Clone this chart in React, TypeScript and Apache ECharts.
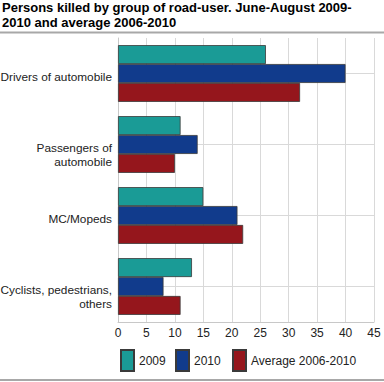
import React, { useEffect, useRef } from "react";
import * as echarts from "echarts";

const categories = [
  "Drivers of automobile",
  "Passengers of\nautomobile",
  "MC/Mopeds",
  "Cyclists, pedestrians,\nothers",
];
const series2009 = [26, 11, 15, 13];
const series2010 = [40, 14, 21, 8];
const seriesAverage = [32, 10, 22, 11];
const seriesNames = ["2009", "2010", "Average 2006-2010"];
const colors = ["#1a9b96", "#113b8c", "#95161c"];
const titleText = "Persons killed by group of road-user. June-August 2009-\n2010 and average 2006-2010";

const FONT = "'Liberation Sans', Arial, sans-serif";

export default function App() {
  const ref = useRef<HTMLDivElement>(null);
  useEffect(() => {
    if (!ref.current) return;
    const chart = echarts.init(ref.current, undefined, { renderer: "svg" });
    const values = [series2009, series2010, seriesAverage];
    const legendLefts = [120, 175, 232];
    chart.setOption({
      animation: false,
      textStyle: { fontFamily: FONT },
      title: {
        text: titleText,
        left: 2,
        top: 0,
        padding: 0,
        textStyle: {
          fontFamily: FONT,
          fontSize: 13,
          fontWeight: "bold",
          color: "#000",
          lineHeight: 15,
        },
      },
      legend: seriesNames.map((n, i) => ({
        data: [n],
        left: legendLefts[i],
        top: 349,
        padding: 0,
        itemWidth: 13,
        itemHeight: 21,
        itemGap: 0,
        icon: "rect",
        selectedMode: false,
        textStyle: { fontFamily: FONT, fontSize: 12, color: "#222" },
      })),
      grid: { left: 118, top: 38, width: 256, height: 284, containLabel: false, outerBoundsMode: "none" },
      xAxis: {
        type: "value",
        min: 0,
        max: 45,
        interval: 5,
        axisLine: { show: true, lineStyle: { color: "#c8c8c8", width: 1 } },
        axisTick: { show: false },
        axisLabel: { fontFamily: FONT, fontSize: 12, color: "#222", margin: 5 },
        splitLine: { show: true, lineStyle: { color: "#d9d9d9", width: 1 } },
      },
      yAxis: {
        type: "category",
        data: categories,
        inverse: true,
        axisLine: { show: true, lineStyle: { color: "#c8c8c8", width: 1 } },
        axisTick: { show: false, alignWithLabel: true },
        axisLabel: {
          fontFamily: FONT,
          fontSize: 11.8,
          color: "#222",
          margin: 6,
          lineHeight: 14,
          align: "right",
          verticalAlign: "top",
          padding: [-4, 0, 0, 0],
        },
        splitLine: { show: true, alignWithLabel: true, lineStyle: { color: "#d9d9d9", width: 1 } },
      },
      graphic: [
        { type: "line", shape: { x1: 0, y1: 32.5, x2: 384, y2: 32.5 }, style: { stroke: "#a8a8a8", lineWidth: 2 } },
        { type: "line", shape: { x1: 0, y1: 380, x2: 384, y2: 380 }, style: { stroke: "#a8a8a8", lineWidth: 2 } },
      ],
      series: seriesNames.map((n, i) => ({
        type: "bar",
        name: n,
        data: values[i],
        barGap: "0%",
        barCategoryGap: "20%",
        itemStyle: { color: colors[i], borderColor: "#3a3a3a", borderWidth: 0.8 },
      })),
    });
    return () => chart.dispose();
  }, []);
  return <div ref={ref} style={{ width: 384, height: 382, position: "absolute", left: 0, top: 0 }} />;
}
